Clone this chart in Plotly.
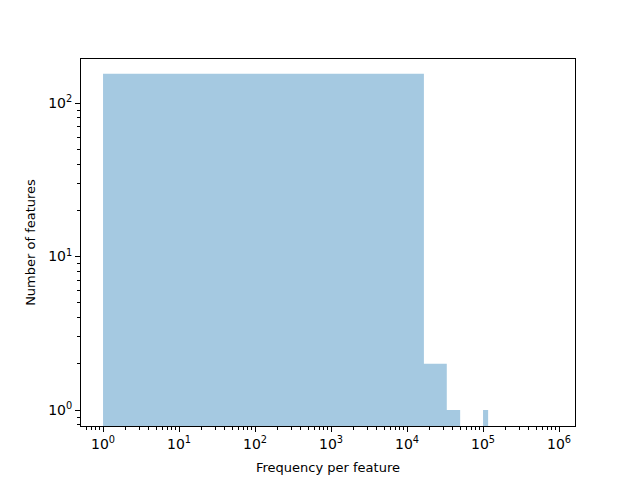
import plotly.graph_objects as go

# Histogram data (linear bins, shown on log-log axes)
bin_edges = [1, 16667, 33334, 50001, 66668, 83335, 100002, 116669]
counts = [155, 2, 1, 0, 0, 0, 1]

x_major = [1, 10, 100, 1000, 10000, 100000, 1000000]
x_labels = ["10<sup>0</sup>", "10<sup>1</sup>", "10<sup>2</sup>", "10<sup>3</sup>",
            "10<sup>4</sup>", "10<sup>5</sup>", "10<sup>6</sup>"]
y_major = [1, 10, 100]
y_labels = ["10<sup>0</sup>", "10<sup>1</sup>", "10<sup>2</sup>"]

bottom = 0.5
xs, ys = [], []
for i, c in enumerate(counts):
    if c <= 0:
        continue
    l, r = bin_edges[i], bin_edges[i + 1]
    xs += [l, l, r, r, l, None]
    ys += [bottom, c, c, bottom, bottom, None]

fig = go.Figure()
fig.add_trace(go.Scatter(x=xs, y=ys, mode="lines", fill="toself",
                         fillcolor="rgb(165,201,225)", line=dict(width=0),
                         hoverinfo="skip", showlegend=False))

def minor_vals(lo, hi):
    v = []
    for e in range(lo, hi):
        for m in range(2, 10):
            v.append(m * 10 ** e)
    return v

font = dict(family="DejaVu Sans", size=13, color="black")
tickfont = dict(family="DejaVu Sans", size=14, color="black")
fig.update_layout(
    width=640, height=480,
    margin=dict(l=73, r=73, t=51, b=62),
    paper_bgcolor="white", plot_bgcolor="white",
    font=font, showlegend=False,
)
fig.update_xaxes(type="log", range=[-0.29, 6.21],
                 tickvals=x_major, ticktext=x_labels, tickfont=tickfont,
                 ticks="outside", ticklen=5, tickwidth=1, tickcolor="black",
                 showline=True, linecolor="black", linewidth=1, mirror=True,
                 showgrid=False, zeroline=False,
                 minor=dict(tickvals=minor_vals(-1, 7), ticks="outside", ticklen=3,
                            tickwidth=1, tickcolor="black", showgrid=False),
                 title=dict(text="Frequency per feature", font=font, standoff=12))
fig.update_yaxes(type="log", range=[-0.104, 2.287],
                 tickvals=y_major, ticktext=y_labels, tickfont=tickfont,
                 ticks="outside", ticklen=5, tickwidth=1, tickcolor="black",
                 showline=True, linecolor="black", linewidth=1, mirror=True,
                 showgrid=False, zeroline=False,
                 minor=dict(tickvals=minor_vals(-1, 3), ticks="outside", ticklen=3,
                            tickwidth=1, tickcolor="black", showgrid=False),
                 title=dict(text="Number of features", font=font, standoff=9))

fig.write_html("out.html")
